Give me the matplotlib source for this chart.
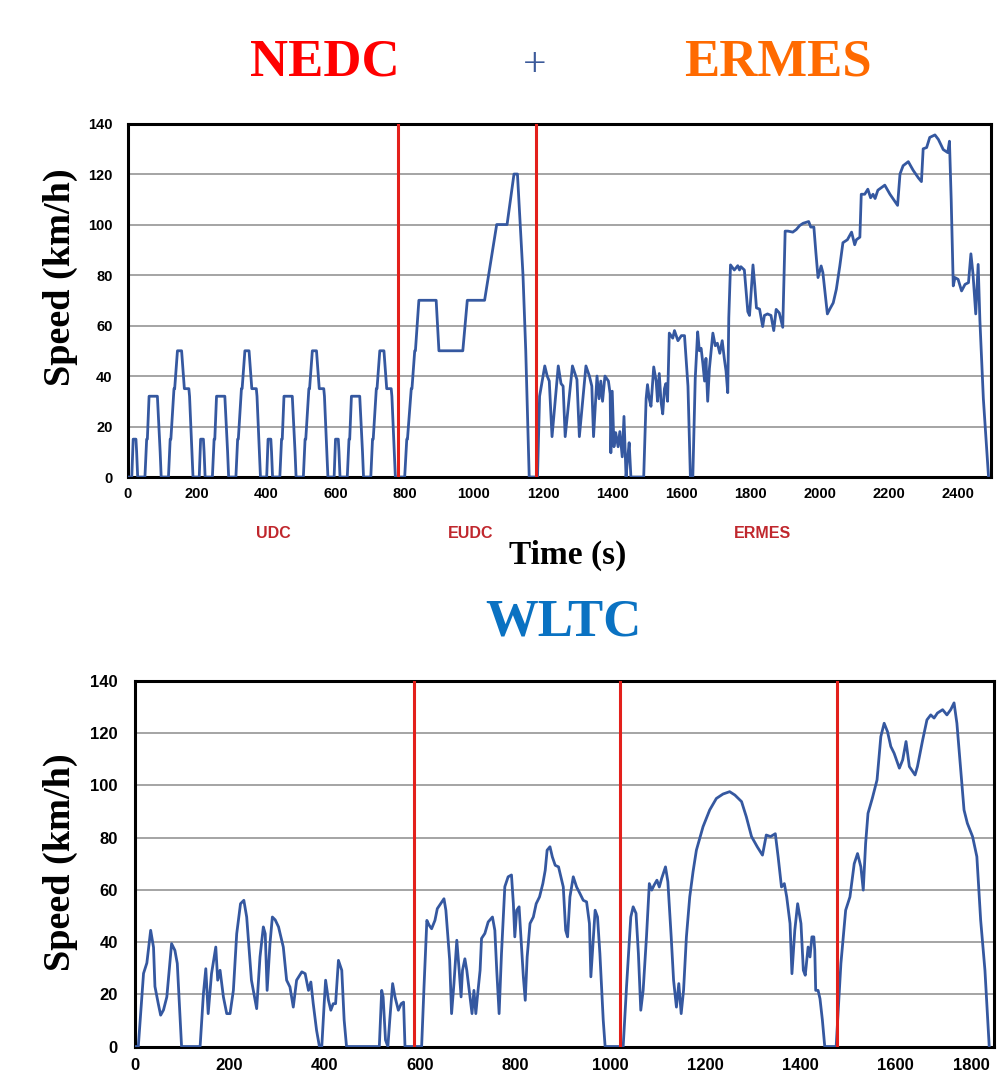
import matplotlib
matplotlib.use("Agg")
import matplotlib.pyplot as plt

# NEDC = 4 x UDC (ECE-15) + EUDC
nedc_t = [0, 11, 15, 23, 25, 28, 49, 54, 56, 61, 85, 93, 96, 117, 122, 124, 133, 135, 143, 155, 163, 176, 178, 185, 188, 195,
          206, 210, 218, 220, 223, 244, 249, 251, 256, 280, 288, 291, 312, 317, 319, 328, 330, 338, 350, 358, 371, 373, 380, 383, 390,
          401, 405, 413, 415, 418, 439, 444, 446, 451, 475, 483, 486, 507, 512, 514, 523, 525, 533, 545, 553, 566, 568, 575, 578, 585,
          596, 600, 608, 610, 613, 634, 639, 641, 646, 670, 678, 681, 702, 707, 709, 718, 720, 728, 740, 748, 761, 763, 770, 773, 780,
          800, 806, 808, 819, 821, 829, 831, 841, 891, 899, 968, 981, 1031, 1066, 1096, 1116, 1126, 1142, 1150, 1160, 1180]
nedc_v = [0, 0, 15, 15, 10, 0, 0, 15, 15, 32, 32, 10, 0, 0, 15, 15, 35, 35, 50, 50, 35, 35, 32, 10, 0, 0,
          0, 15, 15, 10, 0, 0, 15, 15, 32, 32, 10, 0, 0, 15, 15, 35, 35, 50, 50, 35, 35, 32, 10, 0, 0,
          0, 15, 15, 10, 0, 0, 15, 15, 32, 32, 10, 0, 0, 15, 15, 35, 35, 50, 50, 35, 35, 32, 10, 0, 0,
          0, 15, 15, 10, 0, 0, 15, 15, 32, 32, 10, 0, 0, 15, 15, 35, 35, 50, 50, 35, 35, 32, 10, 0, 0,
          0, 15, 15, 35, 35, 50, 50, 70, 70, 50, 50, 70, 70, 100, 100, 120, 120, 80, 50, 0, 0]

ermes_t = [1180, 1184, 1190, 1205, 1212, 1218, 1226, 1244, 1252, 1258, 1264, 1285, 1298, 1305, 1324, 1334, 1341, 1346,
           1356, 1362, 1367, 1372, 1379, 1389, 1394, 1396, 1400, 1405, 1410, 1417, 1422, 1429, 1434, 1440, 1445, 1449,
           1454, 1491, 1498, 1502, 1507, 1512, 1520, 1527, 1531, 1536, 1541, 1546, 1551, 1555, 1560, 1565, 1575, 1580,
           1590, 1600, 1609, 1619, 1626, 1633, 1640, 1647, 1652, 1657, 1662, 1667, 1671, 1676, 1681, 1686, 1691, 1698,
           1704, 1711, 1718, 1724, 1729, 1734, 1737, 1742, 1753, 1763, 1768, 1772, 1782, 1792, 1797, 1807, 1812, 1817,
           1826, 1835, 1840, 1849, 1859, 1867, 1874, 1883, 1893, 1900, 1908, 1922, 1932, 1942, 1952, 1968, 1974, 1983,
           1989, 1995, 2004, 2009, 2022, 2029, 2039, 2048, 2058, 2067, 2080, 2092, 2101, 2106, 2116, 2120, 2130, 2139,
           2147, 2154, 2160, 2168, 2188, 2203, 2218, 2225, 2232, 2241, 2256, 2270, 2285, 2294, 2299, 2309, 2318, 2333,
           2343, 2357, 2370, 2375, 2380, 2386, 2391, 2400, 2410, 2420, 2430, 2437, 2443, 2451, 2458, 2463, 2473, 2488]
ermes_v = [0, 0, 32, 44, 40, 38, 16, 44, 37, 36, 16, 44, 38.6, 16, 44, 40, 36, 16,
           40, 31, 38, 30, 40, 38, 33, 9.6, 34, 12, 17.6, 12, 18, 8, 24, 0, 8, 13.6,
           0, 0, 31, 36.6, 31, 28, 43.6, 38, 30, 41, 30, 25, 35, 37, 30, 57, 55, 58,
           54, 56, 56, 36, 0, 0, 39, 57.5, 50, 51, 45, 38, 47, 30, 43, 50, 57, 52,
           53, 49, 54, 47, 42, 33.4, 63, 84, 82, 83.7, 82, 83.3, 82, 65.5, 64, 84, 76, 67,
           66.5, 59.6, 64, 64.6, 64, 58, 66.4, 65, 59.3, 97.4, 97.4, 97, 98, 99.6, 100.5, 101.2, 99, 99,
           88.6, 79, 83.6, 81, 64.6, 66.5, 69, 74.4, 83.6, 92.8, 94, 97, 92, 94, 95, 112, 112, 114,
           110.6, 112, 110.3, 113.6, 115.6, 112, 109, 107.6, 120, 123.3, 124.9, 121.5, 118.5, 117, 130, 130.5, 134.5, 135.5,
           133.7, 129.7, 128.5, 133, 110, 75.7, 79, 78.3, 73.7, 76.3, 77, 88.4, 80.5, 64.6, 84.2, 62, 31, 0]

top_splits = [780, 1180]
top_phase_labels = ["UDC", "EUDC", "ERMES"]
top_phase_x = [420, 990, 1835]

# WLTC class 3
wltc_t = [0, 8, 19, 26, 34, 40, 43, 50, 55, 61, 68, 78, 85, 90, 99, 138, 145, 150, 155, 162, 171, 175, 180, 187, 194,
          201, 208, 215, 223, 230, 236, 246, 257, 264, 271, 275, 279, 285, 290, 296, 303, 313, 320, 327, 334, 341, 352,
          359, 366, 371, 376, 383, 389, 394, 399, 402, 408, 413, 418, 423, 429, 436, 441, 446, 515, 520, 523, 528, 533,
          537, 543, 548, 555, 561, 566, 569, 604, 609, 615, 620, 625, 632, 637, 644, 651, 655, 663, 667, 672, 678, 683,
          687, 690, 695, 699, 704, 710, 714, 718, 722, 727, 730, 737, 744, 753, 758, 762, 767, 772, 779, 786, 793, 797,
          800, 804, 809, 812, 818, 822, 826, 832, 839, 845, 852, 859, 864, 868, 874, 879, 885, 892, 902, 907, 911, 916,
          923, 930, 937, 944, 951, 957, 960, 964, 969, 974, 979, 986, 990, 1028, 1035, 1044, 1049, 1055, 1060, 1065,
          1070, 1077, 1083, 1088, 1093, 1099, 1104, 1109, 1117, 1122, 1129, 1134, 1140, 1145, 1150, 1155, 1161, 1168,
          1175, 1182, 1196, 1210, 1224, 1238, 1252, 1263, 1277, 1287, 1298, 1310, 1321, 1329, 1338, 1348, 1354, 1361,
          1367, 1372, 1379, 1383, 1389, 1395, 1402, 1407, 1411, 1417, 1421, 1425, 1429, 1431, 1433, 1438, 1442, 1447,
          1452, 1476, 1486, 1496, 1505, 1514, 1521, 1528, 1533, 1538, 1543, 1552, 1562, 1570, 1577, 1584, 1591, 1598,
          1609, 1616, 1623, 1630, 1642, 1647, 1658, 1667, 1675, 1682, 1689, 1700, 1709, 1717, 1724, 1730, 1737, 1745,
          1752, 1763, 1772, 1780, 1789, 1798]
wltc_v = [0, 0, 28, 32, 44.5, 38, 23, 16.4, 12, 14, 19, 39.4, 36.8, 31.8, 0, 0, 20.3, 29.8, 12.6, 27.9, 38.1, 25.4, 29.2, 19, 12.6,
          12.6, 21.5, 43.2, 54.7, 56, 49.6, 25.4, 14.5, 34.3, 45.8, 43.2, 21.5, 39.4, 49.6, 48.5, 45.8, 38.1, 25.4, 22.8, 15.1, 25.4, 28.6,
          27.9, 21.5, 24.7, 16.4, 6.2, 0, 0, 16.4, 25.4, 17.7, 13.9, 16.4, 16.4, 33, 29.2, 10.2, 0, 0, 21.5, 19, 2.5, 0,
          10.2, 24.1, 19, 13.9, 16.4, 17, 0, 0, 22.8, 48.3, 46.4, 45.1, 48.3, 52.8, 54.7, 56.6, 52.2, 33.1, 12.6, 24.1, 40.7, 29.2,
          19, 29.2, 33.6, 29.2, 21.5, 12.6, 21.5, 12.6, 20.3, 29.2, 41.4, 43.3, 47.7, 49.6, 44.5, 29.2, 12.6, 35.6, 61.2, 65, 65.7, 54.7,
          42, 52.2, 53.5, 44.5, 26.7, 17.7, 34.3, 47.1, 49.6, 54.7, 57.3, 62.4, 67.5, 75.2, 76.5, 72.6, 69.4, 68.8, 61.1, 44.5, 42, 57.3,
          65, 61.1, 58.6, 56, 55.4, 47.1, 26.7, 38.1, 52.2, 49.6, 35.6, 10.2, 0, 0, 22.8, 49.6, 53.5, 51, 35.6, 13.9,
          21.5, 42, 62.4, 59.9, 61.8, 63.7, 61.1, 64.4, 68.8, 63.1, 42, 25.4, 15.1, 24.1, 12.6, 21.5, 42, 57.3,
          67, 75.2, 84.2, 90.6, 95, 96.7, 97.6, 96.3, 93.8, 88, 80.4, 76.5, 73.3, 81, 80.4, 81.5, 72.6, 61.1,
          62.4, 57.3, 47.1, 27.9, 44.5, 54.7, 47.1, 29.2, 27.3, 38.1, 34.3, 42, 42, 37, 21.5, 21.5, 18.3, 10.2,
          0, 0, 31.8, 52.2, 57.3, 70, 73.9, 68.8, 59.9, 77.8, 89.3, 95, 102.1, 118.7, 123.8, 120.6, 114.9, 112.3,
          106.6, 109.8, 116.8, 107.2, 104, 107.2, 117.4, 125.1, 127, 125.8, 127.7, 129, 127, 129, 131.6, 123.8, 108.5, 90.6,
          85.5, 80.4, 72.7, 48.4, 29.2, 0]

wltc_splits = [589, 1022, 1477]

LINE = "#3558A0"
RED = "#E3201B"
SERIF = ["Liberation Serif", "DejaVu Serif"]
SANS = ["Liberation Sans", "DejaVu Sans"]

fig = plt.figure(figsize=(10.03, 10.79), dpi=100)


def style_axes(ax, tick_size, xpad, ypad):
    ax.set_ylim(0, 140)
    ax.set_yticks(range(0, 141, 20))
    ax.yaxis.grid(True, color="#8C8C8C", linewidth=1.1)
    ax.set_axisbelow(True)
    ax.tick_params(axis="both", length=0, labelsize=tick_size)
    ax.tick_params(axis="x", pad=xpad)
    ax.tick_params(axis="y", pad=ypad)
    for lab in ax.get_xticklabels() + ax.get_yticklabels():
        lab.set_family(SANS)
        lab.set_fontweight("bold")
    for s in ax.spines.values():
        s.set_linewidth(2.2)
        s.set_color("black")


# upper chart: NEDC + ERMES
ax1 = fig.add_axes([0.1276, 0.5579, 0.8604, 0.3276])
ax1.plot(nedc_t + ermes_t[1:], nedc_v + ermes_v[1:], color=LINE, linewidth=2.0, zorder=3)
for x in top_splits:
    ax1.axvline(x, color=RED, linewidth=2.2, zorder=4)
ax1.set_xlim(0, 2495)
ax1.set_xticks(range(0, 2401, 200))
style_axes(ax1, 10.5, 7, 11)

# lower chart: WLTC
ax2 = fig.add_axes([0.1341, 0.0301, 0.8569, 0.3388])
ax2.plot(wltc_t, wltc_v, color=LINE, linewidth=2.0, zorder=3)
for x in wltc_splits:
    ax2.axvline(x, color=RED, linewidth=2.2, zorder=4)
ax2.set_xlim(0, 1808)
ax2.set_xticks(range(0, 1801, 200))
style_axes(ax2, 12, 8, 12)
# keep the last tick label inside the picture
ax2.get_xticklabels()[-1].set_horizontalalignment("right")

# titles and labels
fig.text(325 / 1003, 1 - 62 / 1079, "NEDC", color="#FF0000", fontsize=38, fontweight="bold",
         family=SERIF, ha="center", va="center")
fig.text(535 / 1003, 1 - 66 / 1079, "+", color="#3C5A9A", fontsize=30,
         family=SERIF, ha="center", va="center")
fig.text(778 / 1003, 1 - 62 / 1079, "ERMES", color="#FF6A00", fontsize=38, fontweight="bold",
         family=SERIF, ha="center", va="center")
fig.text(563 / 1003, 1 - 622 / 1079, "WLTC", color="#0A72C2", fontsize=38, fontweight="bold",
         family=SERIF, ha="center", va="center")

for lab, x in zip(top_phase_labels, top_phase_x):
    ax1.text(x, -0.16, lab, transform=ax1.get_xaxis_transform(), color="#C0272D", fontsize=11.5,
             fontweight="bold", family=SANS, ha="center", va="center")

fig.text(568 / 1003, 1 - 555 / 1079, "Time (s)", fontsize=24, fontweight="bold",
         family=SERIF, ha="center", va="center")
fig.text(60 / 1003, 1 - 277 / 1079, "Speed (km/h)", fontsize=27.5, fontweight="bold",
         family=SERIF, ha="center", va="center", rotation=90)
fig.text(60 / 1003, 1 - 862 / 1079, "Speed (km/h)", fontsize=27.5, fontweight="bold",
         family=SERIF, ha="center", va="center", rotation=90)

fig.savefig("out.png", dpi=100)
